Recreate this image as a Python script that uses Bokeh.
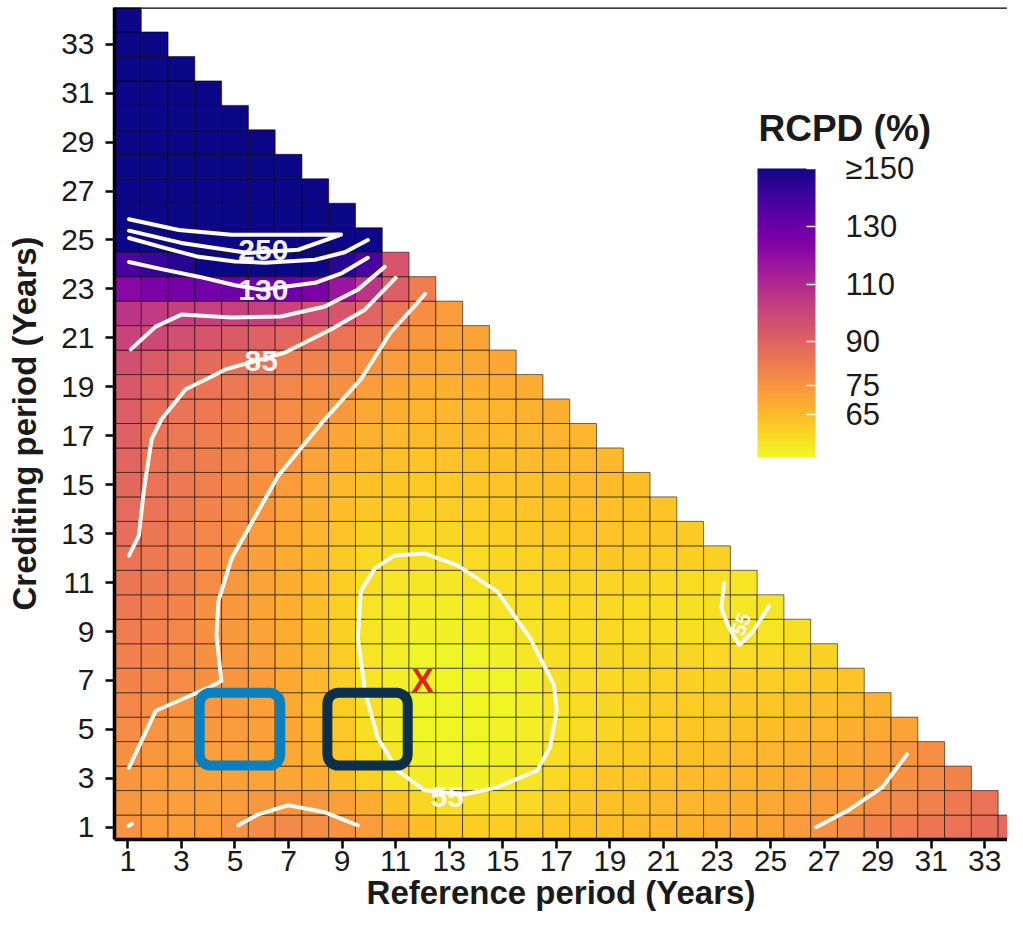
from bokeh.plotting import figure
from bokeh.models import (ColumnDataSource, LinearColorMapper, ColorBar, FixedTicker,
                          Span, BoxAnnotation, Label, AllLabels)
from bokeh.palettes import Plasma256
from bokeh.transform import transform
from bokeh.core.properties import value
from bokeh.embed import file_html
from bokeh.resources import INLINE

# ---------------- data: RCPD (%) by crediting period (rows) and reference period (columns 1..) ----
cp01 = [75, 73, 72, 73, 75.5, 77, 78, 77, 75.5, 73, 69, 64, 61, 60, 60, 61, 62, 63, 64, 65, 66, 67, 68, 69.5, 71, 73, 76, 78, 80, 82, 84, 85, 87, 88]
cp02 = [74, 73, 72, 72, 73, 74, 75, 74, 72, 68, 63, 58, 56, 55.5, 56, 57.5, 60, 61.5, 63, 64, 65, 66, 67, 68, 69.5, 71, 72.5, 74.5, 77, 79, 81, 83, 85]
cp03 = [74.5, 73, 72, 71.5, 71.5, 71, 70, 68, 64, 59, 55, 53, 52, 52, 53, 54.5, 57.5, 60, 61.5, 62.5, 63.5, 64.5, 65.5, 66.5, 67.5, 69, 70.5, 72, 74, 76, 78, 80]
cp04 = [76, 74, 72.5, 72, 72, 71, 69.5, 67, 62, 57, 54, 52, 51, 51, 52, 53, 56, 58.5, 60, 61, 62, 63, 64, 65, 66, 67, 68, 70, 72, 74.5, 76.5]
cp05 = [77.5, 75, 74, 73.5, 73, 72, 70, 66.5, 61, 56, 53, 51, 50.5, 51, 51.5, 52.5, 55, 57, 58.5, 59.5, 60.5, 61.5, 62, 63, 64, 65, 66, 67.5, 69, 71]
cp06 = [79, 77, 75, 74.5, 73.5, 72, 69.5, 65.5, 60.5, 55.5, 53, 51, 50.5, 50.5, 51, 52.5, 55, 56.5, 58, 59, 60, 60.5, 61, 61.5, 62, 63, 64, 65, 66.5]
cp07 = [80, 79, 77.5, 76, 74.5, 72.5, 69.5, 65, 60, 55, 52.5, 51, 50.5, 50.5, 51, 52.5, 55.5, 56.5, 57.5, 58.5, 59, 59.5, 59.5, 60, 60, 60.5, 61.5, 62.5]
cp08 = [81, 80, 78, 76, 74, 71.5, 68.5, 64.5, 60, 55, 52.5, 51, 51, 51, 52, 54, 56, 57, 58, 58.5, 58.5, 58, 57.5, 57, 57.5, 58, 59]
cp09 = [82, 81, 79, 76, 73.5, 71, 68, 64, 59.5, 55, 53, 52, 52, 52.5, 53.5, 55, 56.5, 57, 57.5, 57, 56.5, 56, 55.5, 54.5, 55, 56]
cp10 = [83, 82, 80, 76, 73.5, 70.5, 67.5, 64, 59.5, 55, 53.5, 53, 53, 53.5, 54.5, 56, 57, 57.5, 57.5, 57, 56.5, 56, 55.5, 54, 54.5]
cp11 = [84, 82.5, 80.5, 77.5, 74, 71, 68, 64.5, 60, 56, 54.5, 54, 54, 55, 56, 57, 58, 58.5, 58.5, 58, 57.5, 57, 56, 54.5]
cp12 = [85, 83, 81, 78, 75, 72, 68.5, 65, 61, 57.5, 55.5, 55.5, 56, 57, 58, 59, 60, 61, 61.5, 61, 60.5, 60, 59.5]
cp13 = [86.5, 84, 82, 79, 76, 73, 69.5, 66, 62.5, 59.5, 58, 57.5, 58, 59, 60, 61, 62, 62.5, 62.5, 62, 61.5, 61]
cp14 = [87.5, 84.5, 82.5, 80, 77, 74.5, 71, 67.5, 64, 61.5, 60, 59.5, 60, 60.5, 61.5, 62.5, 63, 63.5, 63.5, 63, 62.5]
cp15 = [88.5, 85, 83, 81, 78.5, 76, 73, 69, 65.5, 63, 61.5, 61, 61, 61.5, 62.5, 63.5, 64, 64.5, 64.5, 64]
cp16 = [89.5, 85.5, 83.5, 81.5, 79.5, 77.5, 75, 71, 67.5, 65, 63.5, 62.5, 62.5, 63, 64, 64.5, 65, 65.5, 65]
cp17 = [90.5, 85, 83.5, 82, 80, 78.5, 76.5, 74, 70, 67, 65.5, 64.5, 64.5, 65, 65.5, 66, 66.5, 66]
cp18 = [92, 87, 84.5, 83, 81.5, 79.5, 77.5, 76, 73.5, 69.5, 67.5, 66.5, 66, 66, 66.5, 67, 67.5]
cp19 = [94, 90, 86.5, 84.5, 83, 81, 79, 77.5, 76, 72.5, 70, 68.5, 67.5, 67.5, 68, 68.5]
cp20 = [97, 93, 90, 88, 86, 84.5, 82, 80, 78, 75.5, 72.5, 70.5, 69.5, 69.5, 70]
cp21 = [101, 99.5, 97, 95, 93, 91, 89, 87, 85, 82, 78, 74, 71.5, 71]
cp22 = [106, 104, 102.5, 102, 102, 102, 100.5, 98, 95, 90, 84, 77, 73]
cp23 = [122, 125, 127, 128, 129, 130, 129, 125, 117, 106, 92, 82]
cp24 = [138, 142, 146, 150, 155, 158, 155, 150, 145, 138, 95]
cp25 = [210, 240, 265, 285, 295, 300, 290, 270, 245, 200]
cp26 = [320, 350, 380, 400, 410, 410, 400, 380, 350]
cp27 = [420, 450, 480, 500, 510, 505, 490, 470]
cp28 = [500, 530, 560, 580, 590, 585, 570]
cp29 = [580, 610, 640, 660, 665, 660]
cp30 = [650, 680, 700, 720, 730]
cp31 = [720, 750, 770, 790]
cp32 = [780, 810, 830]
cp33 = [840, 870]
cp34 = [900]

x_ticks = [1, 3, 5, 7, 9, 11, 13, 15, 17, 19, 21, 23, 25, 27, 29, 31, 33]
y_ticks = [1, 3, 5, 7, 9, 11, 13, 15, 17, 19, 21, 23, 25, 27, 29, 31, 33]
legend_breaks = [65, 75, 90, 110, 130, 150]
legend_labels = ["65", "75", "90", "110", "130", "\u2265150"]

# contour lines (reference period, crediting period)
c250_x = [1.04, 2.9, 4.87, 7.36, 8.96, 7.36, 5.5, 3.0, 1.04]
c250_y = [25.85, 25.41, 25.21, 25.21, 25.22, 24.6, 24.47, 24.88, 25.38]
c200_x = [1.04, 2.3, 3.64, 5.0, 6.13, 7.99, 9.1, 9.96]
c200_y = [25.08, 24.7, 24.31, 24.12, 24.07, 24.19, 24.5, 25.0]
c130_x = [1.04, 2.3, 3.64, 5.0, 5.98, 7.99, 9.0, 9.96]
c130_y = [24.1, 23.8, 23.5, 23.15, 22.97, 23.25, 23.65, 24.27]
c100_x = [1.11, 2.04, 3.0, 4.87, 6.72, 8.36, 9.59, 10.59]
c100_y = [20.53, 21.46, 21.95, 21.83, 21.87, 22.28, 22.97, 23.9]
c85_x = [1.04, 1.41, 1.6, 1.89, 2.26, 3.16, 4.0, 4.64, 5.98, 6.87, 8.58, 9.85, 11.0]
c85_y = [12.1, 12.92, 14.8, 16.87, 17.68, 18.9, 19.35, 19.71, 20.12, 20.4, 21.34, 22.15, 23.45]
c75_x = [12.1, 11.82, 10.81, 9.7, 8.36, 6.61, 5.5, 4.87, 4.38, 4.31, 4.49, 4.0, 2.04, 1.04]
c75_y = [22.8, 22.44, 21.22, 19.31, 17.68, 15.36, 13.2, 11.98, 10.24, 8.85, 6.98, 6.7, 5.76, 3.44]
c75b_x = [5.13, 5.87, 6.99, 8.36, 9.59]
c75b_y = [1.08, 1.53, 1.9, 1.61, 1.08]
c75c_x = [26.7, 27.9, 29.17, 30.1]
c75c_y = [1.0, 1.69, 2.63, 3.98]
c75d_x = [1.02, 1.15]
c75d_y = [1.05, 1.14]
c55_x = [10.96, 12.08, 13.3, 14.79, 16.02, 16.91, 17.02, 16.76, 16.28, 14.79, 13.57, 12.08, 11.07, 10.33, 9.85, 9.59, 9.7, 10.22, 10.96]
c55_y = [12.11, 12.19, 11.7, 10.64, 8.73, 6.82, 5.76, 4.25, 3.32, 2.63, 2.34, 2.51, 3.32, 4.66, 6.57, 8.73, 10.64, 11.58, 12.11]
c55b_x = [23.27, 23.16, 23.45, 23.83, 24.35, 24.94]
c55b_y = [10.97, 9.95, 9.14, 8.45, 9.01, 10.03]

label_x = [6.06, 6.06, 5.98, 12.93]
label_y = [24.6, 22.97, 20.06, 2.22]
label_text = ["250", "130", "85", "55"]
small_label_x = [23.9]
small_label_y = [9.3]
small_label_text = ["55"]

best_x = [12]
best_y = [7]

box_left = [3.68, 8.45]
box_right = [6.69, 11.45]
box_bottom = [3.52, 3.52]
box_top = [6.5, 6.5]
box_colors = ["#0B80BF", "#0C2F4C"]

# ---------------- build cell table ----------------
rows = [cp01, cp02, cp03, cp04, cp05, cp06, cp07, cp08, cp09, cp10, cp11, cp12, cp13, cp14, cp15, cp16, cp17,
        cp18, cp19, cp20, cp21, cp22, cp23, cp24, cp25, cp26, cp27, cp28, cp29, cp30, cp31, cp32, cp33, cp34]
cx, cy, cv = [], [], []
for i, row in enumerate(rows):
    for j, v in enumerate(row):
        cx.append(j + 1)
        cy.append(i + 1)
        cv.append(v)
src = ColumnDataSource(dict(x=cx, y=cy, v=cv))

mapper = LinearColorMapper(palette=list(reversed(Plasma256)), low=50, high=150)

FONT = "Liberation Sans"
INK = "#1a1a1a"

p = figure(width=1007, height=913, x_range=(0.5, 33.85), y_range=(0.5, 34.5),
           output_backend="svg", toolbar_location=None,
           min_border_left=114, min_border_right=0, min_border_top=7, min_border_bottom=71)
p.outline_line_color = None
p.grid.visible = False
p.background_fill_color = "white"

p.rect(x="x", y="y", width=1, height=1, source=src,
       fill_color=transform("v", mapper), line_color="black", line_alpha=0.55, line_width=1)

p.multi_line(xs=[c250_x, c200_x, c130_x, c100_x, c85_x, c75_x, c75b_x, c75c_x, c75d_x, c55_x, c55b_x],
             ys=[c250_y, c200_y, c130_y, c100_y, c85_y, c75_y, c75b_y, c75c_y, c75d_y, c55_y, c55b_y],
             line_color="#FFFBF5", line_width=4, line_join="round", line_cap="round")

p.text(x=label_x, y=label_y, text=label_text, text_color="white", text_font=value(FONT),
       text_font_size="30px", text_font_style="bold", text_align="center", text_baseline="middle",
       text_alpha=0.95)
p.text(x=small_label_x, y=small_label_y, text=small_label_text, text_color="white", text_font=value(FONT),
       text_font_size="20px", text_font_style="bold", text_align="center", text_baseline="middle", angle=1.2)

p.text(x=best_x, y=best_y, text=["X"], text_color="#E3211C", text_font=value(FONT),
       text_font_size="33px", text_font_style="bold", text_align="center", text_baseline="middle")

for l, r, b, t, c in zip(box_left, box_right, box_bottom, box_top, box_colors):
    p.add_layout(BoxAnnotation(left=l, right=r, bottom=b, top=t, fill_color=None, fill_alpha=0,
                               line_color=c, line_width=10, line_alpha=1, border_radius=11))

p.add_layout(Span(location=34.5, dimension="width", line_color="black", line_width=2.5))

for ax, ticks in ((p.xaxis, x_ticks), (p.yaxis, y_ticks)):
    ax.ticker = FixedTicker(ticks=ticks)
    ax.axis_line_width = 3.5
    ax.axis_line_color = "black"
    ax.major_tick_line_width = 2.5
    ax.major_tick_line_color = "black"
    ax.major_tick_out = 9
    ax.major_tick_in = 0
    ax.minor_tick_line_color = None
    ax.major_label_text_font = FONT
    ax.major_label_text_font_size = "30px"
    ax.major_label_text_color = INK
    ax.major_label_policy = AllLabels()
    ax.axis_label_text_font = FONT
    ax.axis_label_text_font_size = "33px"
    ax.axis_label_text_font_style = "bold"
    ax.axis_label_text_color = INK

p.xaxis.axis_label = "Reference period (Years)"
p.yaxis.axis_label = "Crediting period (Years)"
p.xaxis.major_label_standoff = 2
p.xaxis.axis_label_standoff = 0
p.yaxis.major_label_standoff = 11
p.yaxis.axis_label_standoff = 15

# legend
p.add_layout(Label(x=24.55, y=29.55, text="RCPD (%)", text_font=FONT, text_font_size="37px",
                   text_font_style="bold", text_color=INK, text_align="left", text_baseline="alphabetic"))
color_bar = ColorBar(color_mapper=mapper, ticker=FixedTicker(ticks=legend_breaks),
                     major_label_overrides={b: s for b, s in zip(legend_breaks, legend_labels)},
                     major_label_policy=AllLabels(),
                     width=58, height=289, padding=0, location=(643, 382),
                     major_label_text_font=FONT, major_label_text_font_size="31px",
                     major_label_text_color=INK, label_standoff=30,
                     major_tick_line_color="white", major_tick_line_width=1.5,
                     major_tick_in=9, major_tick_out=0, minor_tick_line_color=None,
                     bar_line_color=None, border_line_color=None, background_fill_alpha=0)
p.add_layout(color_bar)

open("out.html", "w").write(file_html(p, INLINE))
